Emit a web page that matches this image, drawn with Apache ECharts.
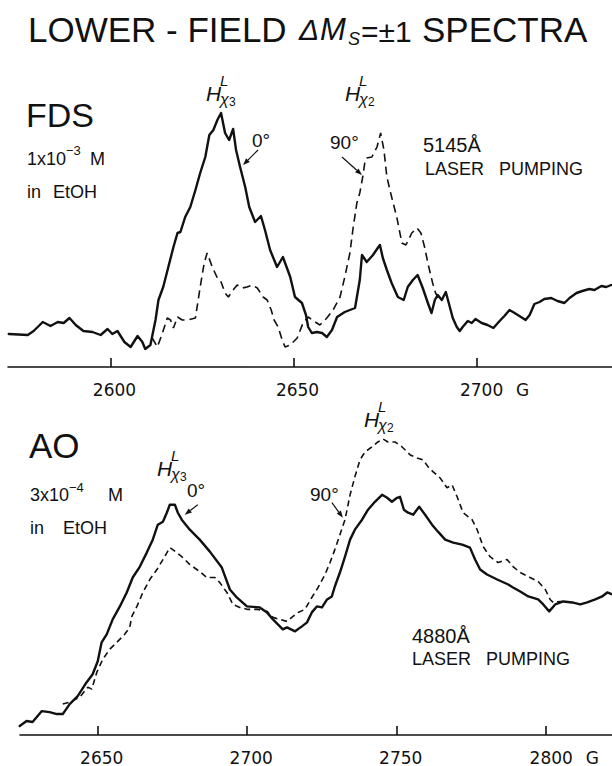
<!DOCTYPE html>
<html>
<head>
<meta charset="utf-8">
<script src="https://cdn.jsdelivr.net/npm/echarts@6/dist/echarts.min.js"></script>
<style>
  html, body { margin: 0; padding: 0; background: #fff; }
  #chart { width: 612px; height: 766px; }
</style>
</head>
<body>
<div id="chart"></div>
<script>
// ---- FDS, 1x10^-3 M in EtOH, 5145 Å pumping: field (G) / signal (arb. units) ----
const fdsField0 = [2572.2,2577.4,2579.0,2581.5,2583.6,2585.6,2587.2,2588.8,2590.5,2592.6,2595.1,2597.3,2599.2,2600.5,2601.9,2603.8,2605.5,2607.4,2608.7,2609.5,2610.9,2612.3,2613.1,2614.4,2615.8,2617.2,2618.3,2619.1,2620.4,2621.8,2623.2,2624.5,2625.9,2627.0,2628.1,2629.2,2630.2,2631.3,2632.4,2633.5,2634.3,2635.4,2636.8,2637.9,2639.5,2641.1,2642.2,2643.6,2645.5,2647.1,2648.2,2649.1,2650.4,2652.3,2653.4,2654.0,2655.0,2656.4,2657.8,2659.1,2660.5,2661.9,2664.0,2666.8,2668.1,2668.7,2670.0,2671.7,2673.0,2673.6,2674.4,2675.5,2676.8,2678.5,2680.1,2681.2,2682.6,2683.9,2685.3,2686.7,2687.7,2688.6,2689.4,2690.5,2691.6,2692.7,2693.5,2694.6,2695.4,2696.2,2697.6,2698.7,2699.7,2701.4,2703.0,2704.6,2706.3,2707.6,2709.0,2710.4,2711.7,2713.4,2714.5,2715.8,2717.2,2718.5,2720.4,2722.1,2724.0,2725.4,2727.3,2728.9,2730.8,2732.2,2734.1,2735.4,2736.8];
const fdsSignal0 = [33,32,36,45,41,45,44,49,42,36,35,32,38,33,36,25,20,31,25,18,22,47,67,80,100,120,134,135,150,160,177,194,210,232,237,247,254,234,227,238,217,200,180,160,145,151,137,117,100,110,99,90,70,64,52,40,34,35,34,30,37,50,55,59,87,112,105,112,119,122,109,97,84,70,67,80,87,92,79,64,54,67,72,67,75,60,49,40,36,40,46,44,48,44,42,39,46,51,57,54,51,47,52,63,65,68,69,66,64,69,74,76,78,77,81,80,82];
const fdsField90 = [2611.4,2612.8,2614.2,2615.5,2616.4,2617.2,2618.3,2619.6,2621.0,2623.2,2624.5,2625.6,2626.4,2627.8,2629.2,2630.2,2631.3,2632.2,2633.5,2634.6,2636.0,2637.3,2638.7,2640.1,2641.7,2642.8,2643.9,2644.7,2645.8,2646.9,2647.7,2649.1,2651.0,2652.6,2654.0,2655.9,2657.2,2659.1,2660.8,2662.7,2664.0,2665.4,2666.2,2667.3,2668.1,2668.9,2669.5,2670.0,2671.4,2672.8,2673.8,2674.7,2675.5,2676.8,2678.2,2679.6,2680.7,2682.3,2683.7,2684.8,2685.8,2686.7,2688.0,2688.8,2689.9];
const fdsSignal90 = [29,20,34,49,47,39,50,47,47,49,80,104,114,100,89,85,74,70,77,82,79,80,82,79,70,67,57,47,40,27,20,22,29,44,50,45,42,49,57,70,90,114,137,164,174,190,205,209,210,220,234,217,190,170,150,124,122,134,139,134,120,104,84,74,67];
const fdsTicks = [2600, 2650, 2700];

// ---- AO, 3x10^-4 M in EtOH, 4880 Å pumping ----
const aoField0 = [2623.9,2626.2,2628.2,2631.3,2633.9,2636.3,2638.3,2640.6,2643.3,2646.3,2648.3,2650.0,2651.3,2653.0,2655.0,2657.4,2659.7,2661.7,2664.1,2666.4,2668.4,2670.1,2671.8,2673.1,2674.1,2675.8,2676.8,2678.1,2680.8,2684.1,2687.5,2691.5,2694.2,2696.5,2699.9,2704.2,2706.6,2708.6,2711.9,2713.3,2716.0,2718.3,2720.0,2721.6,2723.3,2725.0,2726.7,2728.3,2729.3,2731.0,2732.7,2734.4,2736.0,2738.4,2740.4,2742.7,2745.1,2746.8,2748.4,2750.1,2751.1,2752.4,2753.8,2755.5,2757.5,2759.5,2761.8,2763.8,2766.2,2768.9,2771.9,2774.5,2776.2,2777.9,2780.2,2783.6,2787.3,2788.9,2791.3,2794.0,2797.3,2799.0,2801.0,2803.0,2805.7,2808.7,2811.4,2813.7,2816.4,2818.7,2820.4,2822.1];
const aoSignal0 = [9,14,13,24,23,21,21,31,39,53,61,74,93,101,116,129,143,158,169,183,196,211,214,223,231,231,223,216,206,196,184,168,146,138,129,128,123,116,106,108,104,109,113,123,129,128,136,139,149,163,179,196,206,216,226,234,241,238,234,238,239,226,223,221,229,221,211,204,196,193,191,188,176,166,161,156,151,148,144,139,136,131,124,131,134,133,131,133,136,139,143,141];
const aoField90 = [2638.3,2640.6,2644.0,2646.7,2648.0,2649.7,2651.7,2654.0,2656.4,2659.0,2660.7,2661.4,2663.1,2665.1,2667.4,2669.8,2671.8,2674.1,2675.1,2678.1,2680.8,2684.1,2686.5,2689.2,2690.8,2693.2,2695.2,2697.5,2700.2,2703.6,2706.6,2708.6,2710.9,2713.3,2715.3,2717.0,2719.3,2721.6,2723.7,2726.0,2727.7,2729.3,2731.0,2732.7,2734.4,2736.0,2737.7,2739.4,2741.7,2743.7,2745.4,2747.1,2749.4,2751.8,2754.5,2756.8,2758.8,2760.5,2762.2,2764.5,2766.8,2768.5,2770.2,2772.2,2775.2,2776.9,2778.9,2781.2,2783.9,2786.9,2788.9,2791.3,2794.6,2797.3,2799.7,2801.3,2802.3,2804.7,2807.0];
const aoSignal90 = [31,33,38,48,46,63,76,86,93,101,108,119,129,143,156,166,176,188,186,179,171,164,158,158,153,143,131,128,126,126,124,118,116,114,119,123,126,138,148,161,173,186,201,216,241,259,276,284,289,294,297,294,294,289,281,278,276,269,264,258,248,251,239,223,216,206,189,179,173,176,169,163,158,154,146,136,133,134,134];
const aoTicks = [2650, 2700, 2750, 2800];

const INK = '#111';
const SANS = '"Liberation Sans", Arial, sans-serif';
const TICKFONT = '"DejaVu Sans", sans-serif';

function pairs(xs, ys) {
  const n = Math.min(xs.length, ys.length);
  const out = [];
  for (let i = 0; i < n; i++) out.push([xs[i], ys[i]]);
  return out;
}

// field axis: upward ticks, value labels nudged right; the last one carries the unit "G"
function fieldAxis(gridIndex, min, max, ticks) {
  const last = ticks[ticks.length - 1];
  return {
    type: 'value', gridIndex, min, max,
    axisLine: { show: true, onZero: false, lineStyle: { color: INK, width: 1.6 } },
    axisTick: { show: true, inside: true, length: 9, customValues: ticks,
                lineStyle: { color: INK, width: 1.6 } },
    splitLine: { show: false },
    axisLabel: {
      show: true, customValues: ticks, margin: 14,
      formatter: v => v === last ? '{pu|}{n|' + v + '}{g|G}' : '{p|}{n|' + v + '}',
      rich: {
        p:  { width: 8 },
        pu: { width: 36 },
        n:  { fontFamily: TICKFONT, fontSize: 17, color: INK },
        g:  { fontFamily: TICKFONT, fontSize: 17, color: INK, width: 26, align: 'right' }
      }
    }
  };
}

function hiddenY(gridIndex, max) {
  return { type: 'value', gridIndex, min: 0, max, show: false };
}

function trace(name, xi, data, dash) {
  return {
    name, type: 'line', xAxisIndex: xi, yAxisIndex: xi,
    data, showSymbol: false, symbol: 'none', silent: true,
    lineStyle: dash
      ? { color: INK, width: 1.6, type: dash }
      : { color: INK, width: 2.4, join: 'round', cap: 'round' }
  };
}

const chart = echarts.init(document.getElementById('chart'), null,
  { renderer: 'svg', width: 612, height: 766 });

chart.setOption({
  animation: false,
  backgroundColor: '#fff',
  grid: [
    { left: 8,  top: 100, width: 604, height: 267 },
    { left: 20, top: 430, width: 592, height: 306 }
  ],
  xAxis: [ fieldAxis(0, 2572, 2737, fdsTicks), fieldAxis(1, 2624, 2822, aoTicks) ],
  yAxis: [ hiddenY(0, 267), hiddenY(1, 306) ],
  series: [
    trace('FDS 0°',  0, pairs(fdsField0,  fdsSignal0),  null),
    trace('FDS 90°', 0, pairs(fdsField90, fdsSignal90), [8, 5]),
    trace('AO 0°',   1, pairs(aoField0,   aoSignal0),   null),
    trace('AO 90°',  1, pairs(aoField90,  aoSignal90),  [6, 4])
  ]
});

// ---- text and pointer arrows ----
function T(x, y, text, size, opt) {
  opt = opt || {};
  return {
    type: 'text', x, y, silent: true,
    style: {
      text, fill: INK,
      fontSize: size, fontFamily: opt.family || SANS,
      fontStyle: opt.italic ? 'italic' : 'normal',
      align: 'left', verticalAlign: 'middle',
      textAlign: 'left', textVerticalAlign: 'middle'
    }
  };
}

// arrow whose tip sits on a curve point given in (G, signal), tail offset in px
function arrow(gridIndex, tip, dx, dy) {
  const p = chart.convertToPixel({ gridIndex }, tip);
  const tx = p[0], ty = p[1];
  const sx = tx + dx, sy = ty + dy;
  const len = Math.hypot(dx, dy);
  const ux = -dx / len, uy = -dy / len;       // direction tail -> tip
  const hl = 7, hw = 2.6;
  const bx = tx - ux * hl, by = ty - uy * hl;
  return [
    { type: 'line', silent: true, shape: { x1: sx, y1: sy, x2: bx, y2: by },
      style: { stroke: INK, lineWidth: 1.2 } },
    { type: 'polygon', silent: true,
      shape: { points: [[tx, ty], [bx - uy * hw, by + ux * hw], [bx + uy * hw, by - ux * hw]] },
      style: { fill: INK } }
  ];
}

// H^L_{χ} peak label
function peakLabel(x, y, sub) {
  return [
    T(x, y, 'H', 21, { italic: true }),
    T(x + 14, y - 13, 'L', 15, { italic: true }),
    T(x + 14, y + 6, 'χ', 16, { italic: true }),
    T(x + 23, y + 9, sub, 12)
  ];
}

const elements = [
  // heading
  T(28, 29.5, 'LOWER - FIELD', 35),
  T(299, 29.5, 'Δ', 30, { italic: true }),
  T(320, 29.5, 'M', 31, { italic: true }),
  T(348, 38.5, 'S', 18, { italic: true }),
  T(361, 31.5, '=±1', 30),
  T(422, 29.5, 'SPECTRA', 35),

  // FDS panel
  T(26, 115, 'FDS', 34),
  T(27, 158.5, '1x10', 18),
  T(66, 150, '−3', 13),
  T(90, 158.5, 'M', 18),
  T(27, 192, 'in', 18),
  T(53, 192, 'EtOH', 18),
  ...peakLabel(206, 93, '3'),
  ...peakLabel(345, 93, '2'),
  T(252, 140, '0°', 19),
  T(330, 142, '90°', 19),
  T(423, 144.5, '5145Å', 20),
  T(425, 168.5, 'LASER   PUMPING', 18),

  // AO panel
  T(29, 445.5, 'AO', 35),
  T(30, 495, '3x10', 18),
  T(69, 487, '−4', 13),
  T(108, 495, 'M', 18),
  T(30, 528, 'in', 18),
  T(63, 528, 'EtOH', 18),
  ...peakLabel(157, 468, '3'),
  ...peakLabel(364, 419, '2'),
  T(187, 490, '0°', 19),
  T(310, 494, '90°', 19),
  T(412, 635.5, '4880Å', 20),
  T(412, 659, 'LASER   PUMPING', 18),

  ...arrow(0, [2636.2, 202], 15, -15),
  ...arrow(0, [2668.7, 192], -20, -18),
  ...arrow(1, [2679.1, 221], 13, -10),
  ...arrow(1, [2732.0, 218], -11, -15)
];

chart.setOption({ graphic: { elements } });
</script>
</body>
</html>
